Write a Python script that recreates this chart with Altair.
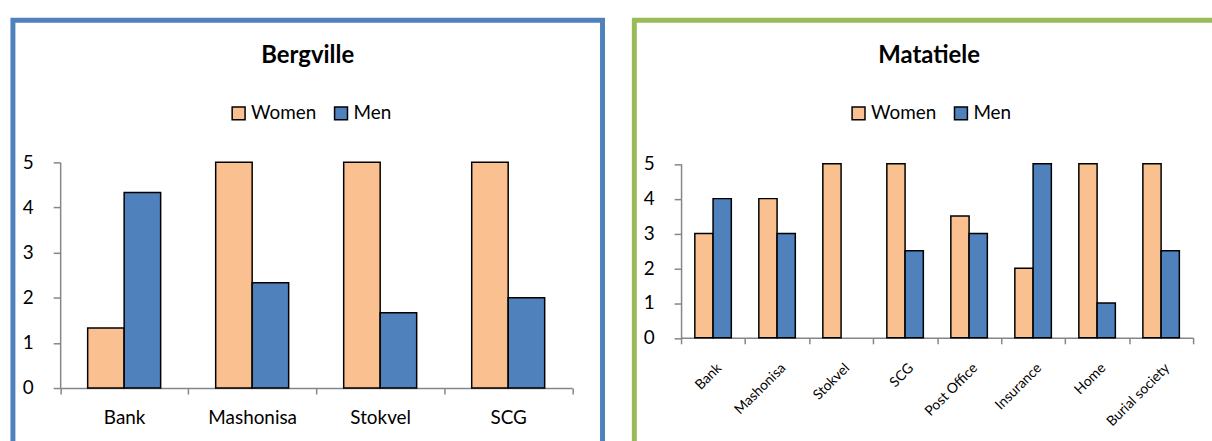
import altair as alt
import pandas as pd

# Bergville: average scores per savings channel
berg_sites = ["Bank", "Mashonisa", "Stokvel", "SCG"]
berg_women = [1.33, 5, 5, 5]
berg_men = [4.33, 2.33, 1.67, 2]

# Matatiele: average scores per savings channel
mata_sites = ["Bank", "Mashonisa", "Stokvel", "SCG", "Post Office",
              "Insurance", "Home", "Burial society"]
mata_women = [3, 4, 5, 5, 3.5, 2, 5, 5]
mata_men = [4, 3, 0, 2.5, 3, 5, 1, 2.5]

groups = ["Women", "Men"]
group_colors = ["#FAC090", "#4F81BD"]
y_ticks = [0, 1, 2, 3, 4, 5]

FONT = "Lato"
AXIS_GREY = "#868686"
PANEL_W = 593
PANEL_H = 430


def long_table(sites, women, men):
    rows = []
    for s, w, m in zip(sites, women, men):
        rows.append({"site": s, "group": "Women", "value": w})
        rows.append({"site": s, "group": "Men", "value": m})
    return pd.DataFrame(rows)


def panel(df, sites, title, border, x_range, y_range, label_angle,
          label_size, label_pad, legend_x, legend_y, label_extra=None):
    label_extra = label_extra or {}
    x_axis = alt.Axis(
        title=None, orient="bottom", offset=-(PANEL_H - y_range[0]),
        tickBand="extent", grid=False, domainColor=AXIS_GREY,
        tickColor=AXIS_GREY, domainWidth=1.5, tickWidth=1.5, tickSize=6,
        labelFont=FONT, labelFontSize=label_size, labelColor="black",
        labelAngle=label_angle, labelPadding=label_pad, labelLimit=300,
        **label_extra,
    )
    y_axis = alt.Axis(
        title=None, orient="left", values=y_ticks, offset=-x_range[0],
        grid=False, domainColor=AXIS_GREY, tickColor=AXIS_GREY,
        domainWidth=1.5, tickWidth=1.5, tickSize=7, labelFont=FONT,
        labelFontSize=19, labelColor="black", labelPadding=20,
    )
    legend = alt.Legend(
        title=None, orient="none", legendX=legend_x, legendY=legend_y,
        direction="horizontal", symbolType="square", symbolSize=169,
        symbolStrokeColor="black", symbolStrokeWidth=1.5, padding=0,
        labelFont=FONT, labelFontSize=19, labelColor="black",
        labelOffset=3, columnPadding=15,
    )
    return (
        alt.Chart(df)
        .transform_filter("datum.value > 0")
        .mark_bar(stroke="black", strokeWidth=1.5)
        .encode(
            x=alt.X("site:N", sort=sites, axis=x_axis,
                    scale=alt.Scale(domain=sites, range=x_range,
                                    paddingInner=0, paddingOuter=0)),
            xOffset=alt.XOffset("group:N", sort=groups,
                                scale=alt.Scale(domain=groups,
                                                paddingInner=0,
                                                paddingOuter=0.754)),
            y=alt.Y("value:Q", axis=y_axis,
                    scale=alt.Scale(domain=[0, 5], range=y_range,
                                    nice=False, zero=True)),
            color=alt.Color("group:N", legend=legend,
                            scale=alt.Scale(domain=groups,
                                            range=group_colors)),
        )
        .properties(
            width=PANEL_W, height=PANEL_H,
            title=alt.TitleParams(text=title, font=FONT, fontSize=24,
                                  fontWeight="bold", color="black",
                                  anchor="middle", offset=-67,
                                  baseline="alphabetic"),
            view=alt.ViewBackground(stroke=border, strokeWidth=5,
                                    fill="white"),
        )
    )


left = panel(long_table(berg_sites, berg_women, berg_men), berg_sites,
             "Bergville", "#4F81BD", [47.5, 562.5], [370, 143], 0, 19, 15,
             217.5, 84)
right = panel(long_table(mata_sites, mata_women, mata_men), mata_sites,
              "Matatiele", "#9BBB59", [47, 562], [319.5, 144.5], -45, 14, 17,
              216, 84, {"labelAlign": "right", "labelBaseline": "top",
                        "labelOffset": 1})

chart = (
    alt.hconcat(left, right, spacing=26)
    .resolve_scale(color="independent", x="independent", y="independent",
                   xOffset="independent")
    .resolve_legend(color="independent")
    .properties(padding={"left": 10, "top": 16, "right": -15, "bottom": -10},
                background="white")
)

chart.save("out.html", embed_options={"renderer": "svg", "actions": False})
